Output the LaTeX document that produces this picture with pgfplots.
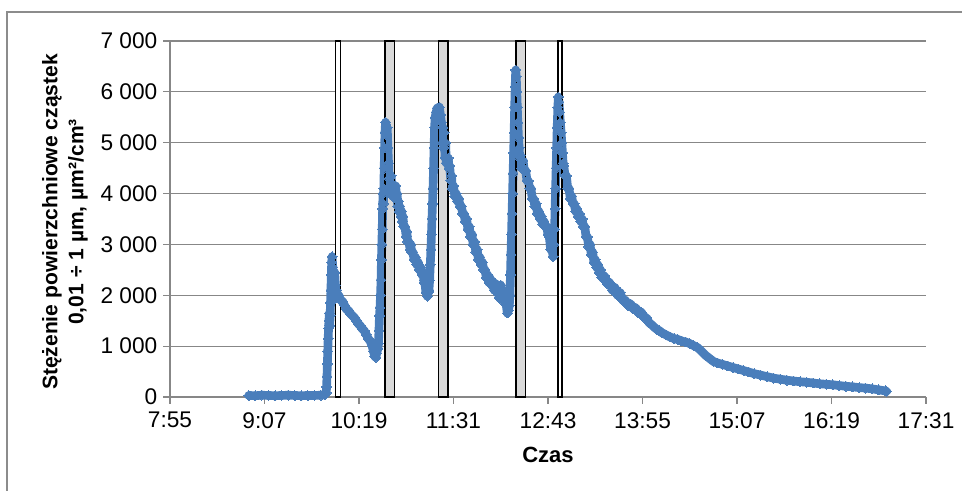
\documentclass[border=0pt]{standalone}
\usepackage{fontspec}
\setmainfont{Liberation Sans}
\usepackage{pgfplots}
\pgfplotsset{compat=1.18}
\definecolor{dblue}{HTML}{4A7EBB}
\definecolor{gridgray}{HTML}{878787}
\definecolor{bargray}{HTML}{D9D9D9}
\definecolor{bordergray}{HTML}{8C8C8C}
\begin{document}
\begin{tikzpicture}
\path[use as bounding box] (0,0) rectangle (721.5pt,368.25pt);
\draw[bordergray, line width=1.1pt] (5.25pt,0) -- (5.25pt,359.25pt) -- (721.5pt,359.25pt);
\begin{axis}[
  at={(127.5pt,70.5pt)}, anchor=south west,
  scale only axis, width=567pt, height=267pt,
  xmin=475, xmax=1051, ymin=0, ymax=7000,
  axis x line*=bottom, axis y line*=left,
  xtick={475,547,619,691,763,835,907,979,1051},
  xticklabels={7:55,9:07,10:19,11:31,12:43,13:55,15:07,16:19,17:31},
  ytick={0,1000,2000,3000,4000,5000,6000,7000},
  yticklabels={0,1 000,2 000,3 000,4 000,5 000,6 000,7 000},
  ymajorgrids,
  grid style={draw=gridgray, line width=0.9pt},
  axis line style={draw=gridgray, line width=0.9pt},
  tick style={draw=gridgray, line width=0.9pt},
  tick align=outside, major tick length=5pt,
  every tick label/.append style={font=\fontsize{17}{20}\selectfont},
  xticklabel style={yshift=-3pt},
  yticklabel style={xshift=-1pt},
  clip=false,
]
% bar fills
\addplot[draw=none, fill=white, forget plot] coordinates {(601.2,0) (604.8,0) (604.8,7000) (601.2,7000)} -- cycle;
\addplot[draw=none, fill=bargray, forget plot] coordinates {(638.8,0) (645.9,0) (645.9,7000) (638.8,7000)} -- cycle;
\addplot[draw=none, fill=bargray, forget plot] coordinates {(679.7,0) (686.8,0) (686.8,7000) (679.7,7000)} -- cycle;
\addplot[draw=none, fill=bargray, forget plot] coordinates {(738.6,0) (746.0,0) (746.0,7000) (738.6,7000)} -- cycle;
\addplot[draw=none, fill=white, forget plot] coordinates {(770.4,0) (773.7,0) (773.7,7000) (770.4,7000)} -- cycle;
% data
\addplot[color=dblue, line width=6.5pt, line join=round, line cap=round,
  mark=square*, mark size=2.6pt, mark options={rotate=45, line width=0pt, fill=dblue, draw=dblue}] table {
x y
535 30
540 25
545 35
550 30
555 25
560 30
565 35
570 30
575 25
580 30
585 30
590 35
593 45
594 80
594.3 200
594.6 400
594.9 650
595.2 900
595.5 1150
595.8 1350
596.1 1500
596.4 1650
596.7 1400
597 1600
597.3 1850
597.6 2100
597.9 2400
598.2 2650
598.5 2760
599 2550
599.5 2300
600 2150
600.5 2450
601 2200
601.5 2000
602 2100
602.5 1950
603.5 2000
605 1900
606.5 1880
608 1800
609.5 1720
611 1700
612.5 1640
614 1600
615.5 1560
617 1500
618.5 1440
620 1400
621.5 1340
623 1300
624.5 1230
626 1150
627.5 1100
629 1000
630 900
631 800
631.8 780
632.5 860
633.3 950
633.8 1050
634.2 1300
634.6 1600
635 1750
635.4 2000
635.8 2300
636.1 2700
636.4 3000
636.7 3300
637 3700
637.3 4000
637.6 3800
637.9 4100
638.2 4500
638.5 4900
638.8 5200
639.2 5400
639.6 5350
640 5150
640.5 5300
641 4900
641.5 4600
642 4300
642.5 4100
643 4000
643.5 4350
644 4100
644.5 3950
645 4050
646 4150
646.5 4000
647 4150
647.5 3900
648 4000
648.5 3750
649 3850
649.5 3650
650 3750
651 3550
651.5 3650
652 3450
652.5 3550
653 3350
654 3350
655 3150
655.5 3250
656 3050
657 3050
658 2900
658.5 3000
659 2850
660 2850
661 2700
662 2750
663 2600
664 2650
665 2500
666 2550
667 2400
668 2450
668.5 2250
669 2300
670 2050
670.5 2150
671 1980
671.8 2050
672.3 2100
672.8 2300
673.3 2600
673.8 2900
674.2 3200
674.6 3500
675 3800
675.4 4100
675.8 4500
676.2 4900
676.6 5300
677 5500
677.8 5600
678.6 5680
679.4 5650
680.2 5700
681 5550
681.8 5400
682.5 5000
683 5300
683.5 4900
684 5200
684.5 4700
685 5000
685.5 4600
687 4700
687.5 4500
688 4550
689 4250
689.5 4350
690 4100
691 4150
692 3950
693 4000
694 3850
695 3900
696 3750
697 3750
698 3600
699 3600
700 3450
701 3500
702 3300
703 3350
704 3150
705 3200
706 3000
707 3050
708 2850
709 2900
710 2700
711 2750
712 2600
713 2650
714 2500
715 2500
716 2350
717 2400
718 2250
719 2330
720 2200
721 2250
722 2100
723 2230
724 2050
725 2100
726 1950
727 2200
728 2050
729 2050
730 1850
731 1850
732 1650
732.8 1700
733.5 1800
734 2000
734.4 2400
734.8 2800
735.2 3200
735.6 3600
736 4000
736.4 4400
736.8 4800
737.2 5200
737.6 5700
738 6100
738.4 6430
738.8 6300
739.2 6000
739.6 5700
740 5400
740.5 5100
741 4900
741.5 4700
742 4750
743 4500
744 4650
745 4450
746 4450
747 4250
748 4250
749 4100
750 4100
751 3900
752 3900
753 3750
754 3800
755 3600
756 3650
757 3500
758 3550
759 3400
760 3450
761 3350
762 3350
763 3200
764 3150
765 2900
766 2900
767 2760
767.5 3000
768 3300
768.4 3700
768.8 4100
769.2 4500
769.6 4900
770 5300
770.5 5700
770.9 5900
771.4 5800
771.9 5600
772.4 5400
773 5200
773.5 5000
774 4800
774.5 4600
775 4550
776 4350
777 4350
778 4100
779 4100
780 3900
781 3950
782 3800
783 3800
784 3650
785 3700
786 3550
787 3600
788 3450
789 3500
790 3350
791 3350
792 3150
793 3150
794 2950
795 3000
796 2800
797 2850
798 2650
799 2700
800 2550
801 2600
802 2450
803 2500
804 2350
806 2380
808 2230
810 2250
812 2100
814 2150
816 2000
818 2050
820 1900
822 1900
824 1800
826 1830
828 1730
830 1750
832 1650
834 1670
836 1570
838 1560
840 1460
842 1420
844 1370
846 1330
848 1300
850 1260
853 1220
856 1180
859 1150
862 1130
865 1100
868 1080
871 1050
874 1010
877 970
880 900
883 820
886 760
889 700
892 670
896 640
900 610
904 580
908 550
912 520
916 490
920 460
925 430
930 400
935 370
940 350
945 330
950 315
955 300
960 290
965 275
970 260
975 250
980 240
985 225
990 210
995 200
1000 185
1005 175
1010 160
1015 140
1020 120
1021 110
};
% bar outlines
\addplot[draw=black, line width=1.2pt, forget plot] coordinates {(601.2,0) (604.8,0) (604.8,7000) (601.2,7000)} -- cycle;
\addplot[draw=black, line width=1.2pt, forget plot] coordinates {(638.8,0) (645.9,0) (645.9,7000) (638.8,7000)} -- cycle;
\addplot[draw=black, line width=1.2pt, forget plot] coordinates {(679.7,0) (686.8,0) (686.8,7000) (679.7,7000)} -- cycle;
\addplot[draw=black, line width=1.2pt, forget plot] coordinates {(738.6,0) (746.0,0) (746.0,7000) (738.6,7000)} -- cycle;
\addplot[draw=black, line width=1.2pt, forget plot] coordinates {(770.4,0) (773.7,0) (773.7,7000) (770.4,7000)} -- cycle;
\end{axis}
\node[rotate=90, align=center, font=\fontsize{15.8}{19.5}\selectfont\bfseries] at (48.75pt,201.75pt) {Stężenie powierzchniowe cząstek\\0,01 ÷ 1 µm, µm²/cm³};
\node[font=\fontsize{16.5}{19}\selectfont\bfseries] at (411pt,27pt) {Czas};
\end{tikzpicture}
\end{document}
